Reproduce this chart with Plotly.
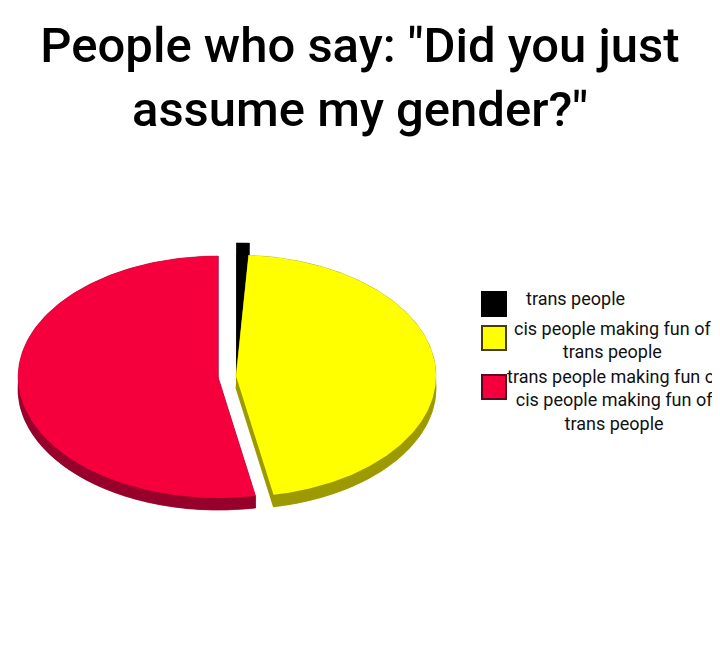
import numpy as np
import plotly.graph_objects as go

# ---- data ----
categories = [
    "trans people",
    "cis people making fun of<br>trans people",
    "trans people making fun of<br>cis people making fun of<br>trans people",
]
values = [1, 46, 53]

# ---- styles ----
top_colors = ["#000000", "#FFFF00", "#F5003C"]
side_colors = ["#000000", "#9C9A00", "#96002A"]
swatch_border = ["#000000", "#4a3a10", "#5a0a20"]
pulls = [0.10, 0.0, 0.09]

# The page has an 8px body margin; size the figure so it fits without
# scrollbars and set axes so one data unit = one page pixel.
OFF = 8
W, HGT = 720 - 2 * OFF, 655 - 2 * OFF

# ellipse geometry (pixel-like axes)
CX, CY, RX, RY, H = 236, 376, 200, 121, 12

fig = go.Figure()

cum = np.concatenate([[0], np.cumsum(values)]) / sum(values) * 360.0
walls, tops = [], []
for i, v in enumerate(values):
    a0, a1 = cum[i], cum[i + 1]
    mid = np.radians((a0 + a1) / 2)
    ox = CX + pulls[i] * RX * np.sin(mid)
    oy = CY - pulls[i] * RY * np.cos(mid)
    th = np.radians(np.linspace(a0, a1, 200))
    ax = ox + RX * np.sin(th)
    ay = oy - RY * np.cos(th)
    tops.append(go.Scatter(
        x=np.concatenate([[ox], ax, [ox]]), y=np.concatenate([[oy], ay, [oy]]),
        fill="toself", fillcolor=top_colors[i], mode="lines", line=dict(width=0),
        name=categories[i].replace("<br>", " "), text=f"{v}%", hoverinfo="name+text",
        showlegend=False))
    polys = [
        (np.concatenate([[ox], ax, [ox]]), np.concatenate([[oy], ay, [oy]]) + H),
        (np.concatenate([ax, ax[::-1]]), np.concatenate([ay, ay[::-1] + H])),
        (np.array([ox, ax[0], ax[0], ox]), np.array([oy, ay[0], ay[0] + H, oy + H])),
        (np.array([ox, ax[-1], ax[-1], ox]), np.array([oy, ay[-1], ay[-1] + H, oy + H])),
    ]
    for px, py in polys:
        walls.append(go.Scatter(
            x=px, y=py, fill="toself", fillcolor=side_colors[i], mode="lines",
            line=dict(width=0.5, color=side_colors[i]), hoverinfo="skip", showlegend=False))

for t in walls + tops:
    fig.add_trace(t)

# ---- legend (swatches + centred text blocks) ----
SW_X0, SW_X1, SW = 482, 506, 24
leg_sq_cy = [304, 338, 387]
leg_txt_cx = [575, 612, 614]
leg_txt_cy = [298, 340, 400]
for i, lab in enumerate(categories):
    fig.add_shape(type="rect", xref="x", yref="y",
                  x0=SW_X0, x1=SW_X1, y0=leg_sq_cy[i] - SW / 2, y1=leg_sq_cy[i] + SW / 2,
                  fillcolor=top_colors[i], line=dict(color=swatch_border[i], width=2))
    fig.add_annotation(x=leg_txt_cx[i], y=leg_txt_cy[i], xref="x", yref="y",
                       text=lab, showarrow=False, xanchor="center", yanchor="middle",
                       align="center",
                       font=dict(family="Roboto", size=18, color="#111111"))

fig.update_layout(
    width=W, height=HGT,
    margin=dict(l=0, r=0, t=0, b=0),
    paper_bgcolor="white", plot_bgcolor="white",
    title=dict(text='People who say: "Did you just<br>assume my gender?"',
               x=(360 - OFF) / W, xanchor="center", y=1 - 54 / HGT, yanchor="top",
               yref="container",
               font=dict(family="Roboto", size=49, color="#000000", weight=500)),
    xaxis=dict(range=[OFF, 720 - OFF], visible=False, fixedrange=True),
    yaxis=dict(range=[655 - OFF, OFF], visible=False, fixedrange=True),
    showlegend=False,
)

fig.write_html("out.html")
